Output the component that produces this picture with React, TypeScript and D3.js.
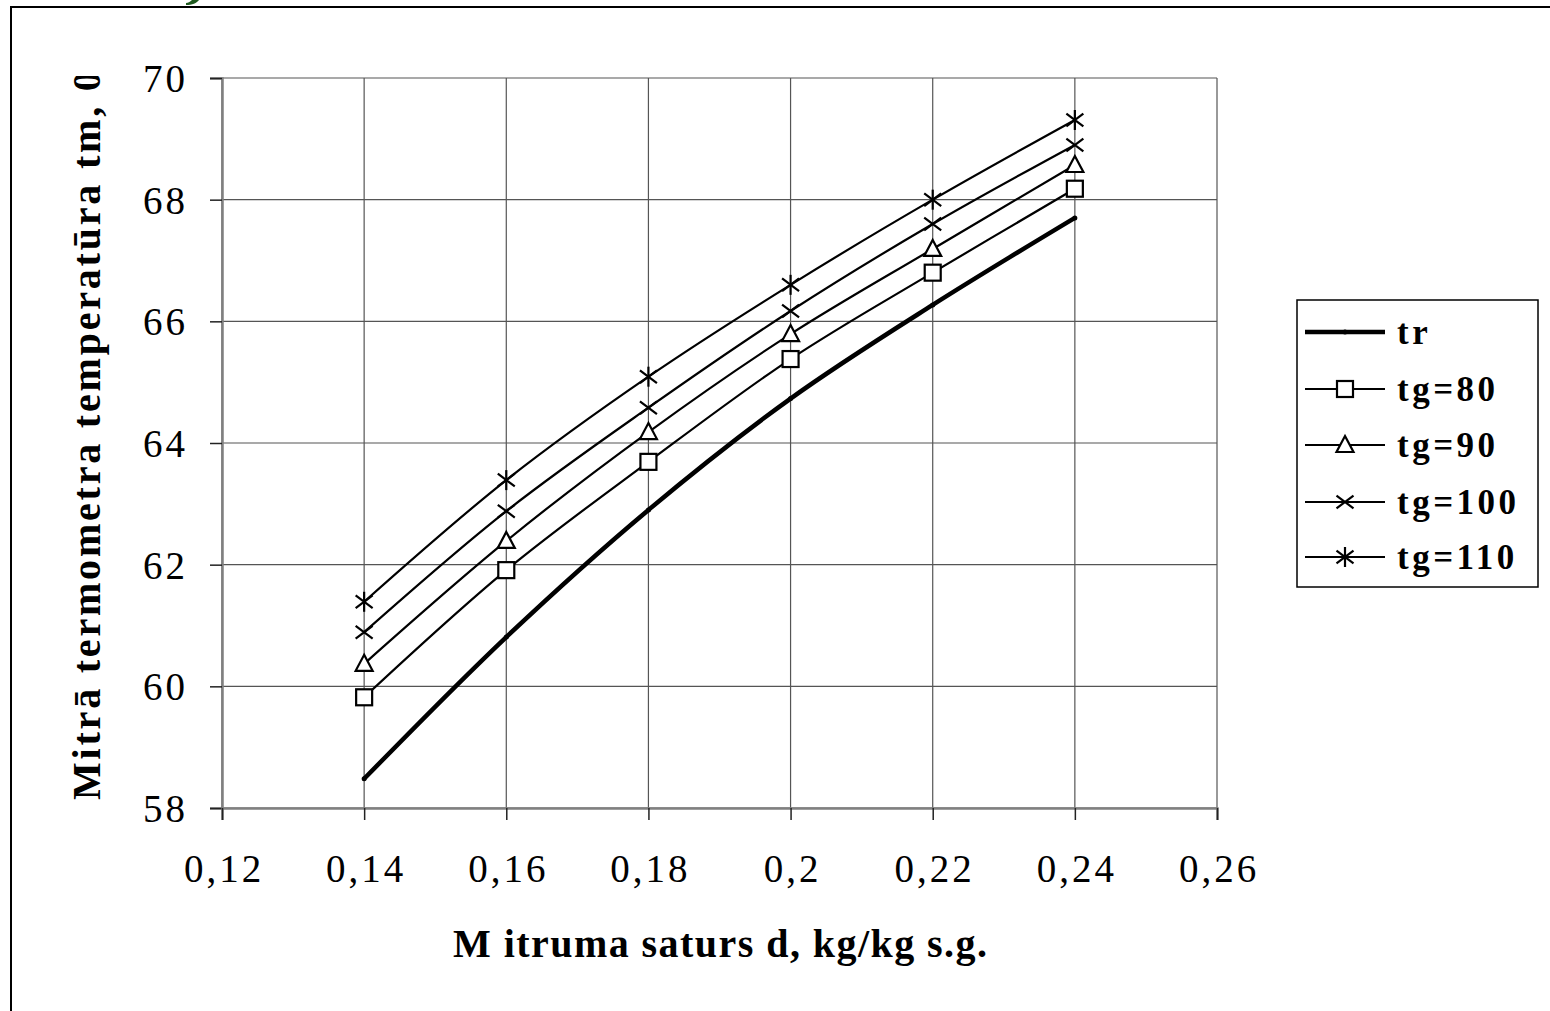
import React, { useEffect, useRef } from 'react'
import * as d3 from 'd3'

// moisture content d, kg/kg s.g.
const dValues = [0.14, 0.16, 0.18, 0.2, 0.22, 0.24]
// wet bulb temperature, per series
const trValues = [58.48, 60.81, 62.9, 64.73, 66.27, 67.7]
const tg80Values = [59.82, 61.91, 63.69, 65.38, 66.8, 68.18]
const tg90Values = [60.37, 62.39, 64.18, 65.79, 67.19, 68.57]
const tg100Values = [60.89, 62.88, 64.58, 66.17, 67.6, 68.9]
const tg110Values = [61.39, 63.39, 65.09, 66.6, 68.0, 69.31]

const seriesNames = ['tr', 'tg=80', 'tg=90', 'tg=100', 'tg=110']
const seriesMarkers = ['dot', 'square', 'triangle', 'cross', 'star']

const xTicks = [0.12, 0.14, 0.16, 0.18, 0.2, 0.22, 0.24, 0.26]
const yTicks = [58, 60, 62, 64, 66, 68, 70]

const xTitle = 'M itruma saturs d, kg/kg s.g.'
const yTitle = 'Mitrā termometra temperatūra tm, 0C'

const W = 1550, H = 1011
const plot = { left: 222, right: 1217, top: 78, bottom: 808 }
const serif = '"Liberation Serif", "Times New Roman", serif'

function drawMarker(g: any, kind: string, cx: number, cy: number) {
    if (kind === 'dot') {
        g.append('circle').attr('cx', cx).attr('cy', cy).attr('r', 2.5).attr('fill', '#000')
    } else if (kind === 'square') {
        g.append('rect').attr('x', cx - 8).attr('y', cy - 8).attr('width', 16).attr('height', 16)
            .attr('fill', '#fff').attr('stroke', '#000').attr('stroke-width', 2.2)
    } else if (kind === 'triangle') {
        g.append('path').attr('d', `M${cx},${cy - 9}L${cx + 8.5},${cy + 7}L${cx - 8.5},${cy + 7}Z`)
            .attr('fill', '#fff').attr('stroke', '#000').attr('stroke-width', 2.2)
    } else {
        const s = 8.5
        g.append('path').attr('d', `M${cx - s},${cy - s * 0.75}L${cx + s},${cy + s * 0.75}M${cx - s},${cy + s * 0.75}L${cx + s},${cy - s * 0.75}`)
            .attr('stroke', '#000').attr('stroke-width', 2.2)
        if (kind === 'star') {
            g.append('path').attr('d', `M${cx},${cy - 10}L${cx},${cy + 10}`).attr('stroke', '#000').attr('stroke-width', 2.2)
        }
    }
}

export default function App() {
    const ref = useRef<SVGSVGElement>(null)

    useEffect(() => {
        const svg = d3.select(ref.current)
        svg.selectAll('*').remove()

        const x = d3.scaleLinear().domain([0.12, 0.26]).range([plot.left, plot.right])
        const y = d3.scaleLinear().domain([58, 70]).range([plot.bottom, plot.top])

        svg.append('rect').attr('width', W).attr('height', H).attr('fill', '#fff')

        // outer chart frame, cut by the picture edges
        svg.append('rect').attr('x', 11).attr('y', 7).attr('width', W + 20).attr('height', H + 20)
            .attr('fill', 'none').attr('stroke', '#000').attr('stroke-width', 2)

        // bit of green heading above the frame (cut off in the original too)
        svg.append('path').attr('d', 'M186,5 C192,5 197,3 199,0 L192,0 C190,2 188,3 186,3 Z')
            .attr('fill', '#1f5a1f')

        // grid
        const grid = svg.append('g')
        grid.selectAll('.hg').data(yTicks).enter().append('line')
            .attr('x1', plot.left).attr('x2', plot.right)
            .attr('y1', d => y(d)).attr('y2', d => y(d))
            .attr('stroke', '#555').attr('stroke-width', 1.2)
        grid.selectAll('.vg').data(xTicks).enter().append('line')
            .attr('x1', d => x(d)).attr('x2', d => x(d))
            .attr('y1', plot.top).attr('y2', plot.bottom)
            .attr('stroke', '#555').attr('stroke-width', 1.2)

        // axes
        const yAxis = d3.axisLeft(y).tickValues(yTicks).tickSize(12).tickFormat(() => '')
        svg.append('g').attr('transform', `translate(${plot.left},0)`).call(yAxis)
            .call(g => g.select('.domain').attr('stroke', '#808080').attr('stroke-width', 2.5))
            .call(g => g.selectAll('.tick line').attr('stroke', '#222').attr('stroke-width', 1.5))
        const xAxis = d3.axisBottom(x).tickValues(xTicks).tickSize(12).tickFormat(() => '')
        svg.append('g').attr('transform', `translate(0,${plot.bottom})`).call(xAxis)
            .call(g => g.select('.domain').attr('stroke', '#808080').attr('stroke-width', 2.5))
            .call(g => g.selectAll('.tick line').attr('stroke', '#222').attr('stroke-width', 1.5))

        // tick labels
        svg.append('g').selectAll('text').data(yTicks).enter().append('text')
            .attr('x', 188).attr('y', d => y(d) + 14)
            .attr('text-anchor', 'end').attr('font-family', serif).attr('font-size', 39)
            .attr('letter-spacing', 3).text(d => String(d))
        svg.append('g').selectAll('text').data(xTicks).enter().append('text')
            .attr('x', d => x(d) + 2).attr('y', 882)
            .attr('text-anchor', 'middle').attr('font-family', serif).attr('font-size', 39)
            .attr('letter-spacing', 3).text(d => String(d).replace('.', ','))

        // axis titles
        svg.append('text').attr('x', 453).attr('y', 957)
            .attr('font-family', serif).attr('font-weight', 'bold').attr('font-size', 40)
            .attr('textLength', 534).attr('lengthAdjust', 'spacing').text(xTitle)

        svg.append('clipPath').attr('id', 'ytclip').append('rect')
            .attr('x', 0).attr('y', 76).attr('width', 200).attr('height', 800)
        svg.append('g').attr('clip-path', 'url(#ytclip)').append('text')
            .attr('transform', 'translate(100,800) rotate(-90)')
            .attr('font-family', serif).attr('font-weight', 'bold').attr('font-size', 40)
            .attr('letter-spacing', 2.8).text(yTitle)

        // series
        const allSeries = [trValues, tg80Values, tg90Values, tg100Values, tg110Values]
        const line = d3.line<number>()
            .x((_, i) => x(dValues[i]))
            .y(d => y(d))
            .curve(d3.curveCatmullRom.alpha(0.5))

        allSeries.forEach((vals, si) => {
            svg.append('path').datum(vals).attr('d', line)
                .attr('fill', 'none').attr('stroke', '#000')
                .attr('stroke-width', si === 0 ? 4.5 : 2.2)
            const mg = svg.append('g')
            vals.forEach((v, i) => drawMarker(mg, seriesMarkers[si], x(dValues[i]), y(v)))
        })

        // legend
        const legend = svg.append('g')
        legend.append('rect').attr('x', 1297).attr('y', 300).attr('width', 241).attr('height', 287)
            .attr('fill', '#fff').attr('stroke', '#000').attr('stroke-width', 1.5)
        const legendY = [332, 389, 445, 502, 557]
        seriesNames.forEach((name, i) => {
            const ly = legendY[i]
            legend.append('line').attr('x1', 1305).attr('x2', 1385).attr('y1', ly).attr('y2', ly)
                .attr('stroke', '#000').attr('stroke-width', i === 0 ? 4.5 : 2.2)
            drawMarker(legend, seriesMarkers[i], 1345, ly)
            legend.append('text').attr('x', 1397).attr('y', ly + 12)
                .attr('font-family', serif).attr('font-weight', 'bold').attr('font-size', 35)
                .attr('letter-spacing', 3.5).text(name)
        })
    }, [])

    return <svg ref={ref} width={W} height={H}
        style={{ position: 'absolute', left: 0, top: 0, display: 'block' }} />
}
